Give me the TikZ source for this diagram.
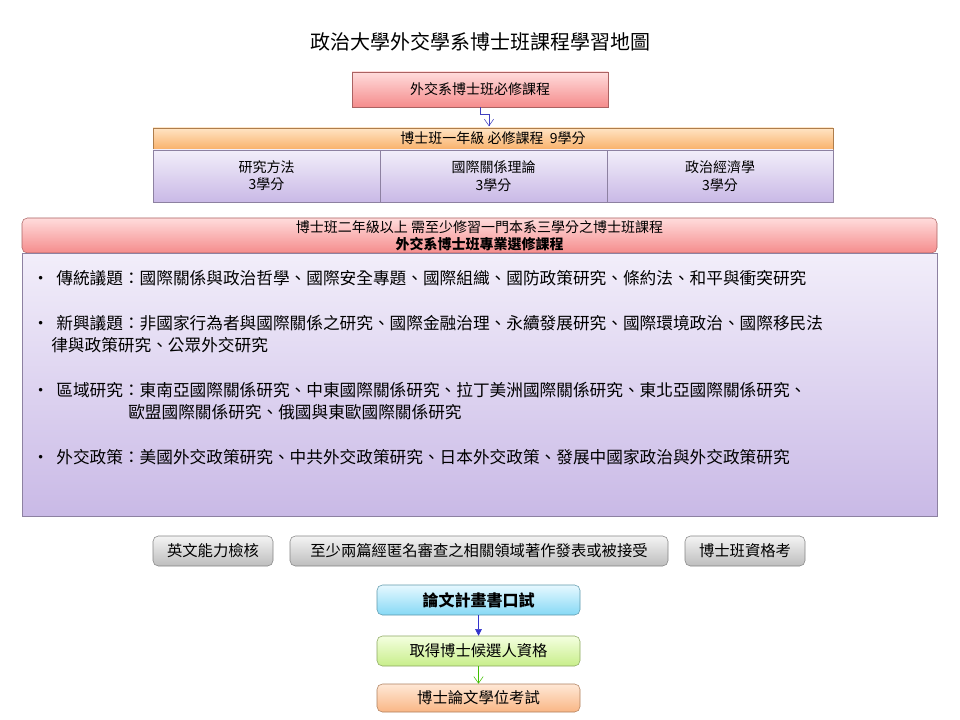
\documentclass[tikz,border=0pt]{standalone}
\usepackage{fontspec}
\setmainfont{Noto Sans CJK TC}
\usetikzlibrary{arrows.meta,calc}
\definecolor{pinkA}{HTML}{FFDCDC}\definecolor{pinkB}{HTML}{F58C8C}
\definecolor{oraA}{HTML}{FFE4C4}\definecolor{oraB}{HTML}{F9B26C}
\definecolor{purA}{HTML}{F2EEFA}\definecolor{purB}{HTML}{C9B9E6}
\definecolor{gryA}{HTML}{F4F4F4}\definecolor{gryB}{HTML}{BDBDBD}
\definecolor{bluA}{HTML}{E6F8FF}\definecolor{bluB}{HTML}{86D9F5}
\definecolor{grnA}{HTML}{F4FFE0}\definecolor{grnB}{HTML}{C8EE8A}
\definecolor{ora2A}{HTML}{FFE8D6}\definecolor{ora2B}{HTML}{F9B685}
\begin{document}
\begin{tikzpicture}[x=0.75pt,y=-0.75pt,
  bx/.style={draw=#1B!70!black, top color=#1A, bottom color=#1B, inner sep=0pt, align=center, font=\fontsize{10.5}{13}\selectfont},
]
\useasboundingbox (0,0) rectangle (960,720);
\node (title) at (480,42) {\fontsize{15}{18}\selectfont 政治大學外交學系博士班課程學習地圖};
\node[bx=pink, minimum width=256*0.75pt, minimum height=35*0.75pt] (req) at (480,89.5) {外交系博士班必修課程};
\node[bx=ora, minimum width=680*0.75pt, minimum height=21*0.75pt] (y1) at (493,138.5) {博士班一年級\ 必修課程\ \ 9學分};
\node[bx=pur, minimum width=227*0.75pt, minimum height=52*0.75pt] (c1) at (266.5,176) {研究方法\\3學分};
\node[bx=pur, minimum width=227*0.75pt, minimum height=52*0.75pt] (c2) at (493.5,176) {國際關係理論\\3學分};
\node[bx=pur, minimum width=226*0.75pt, minimum height=52*0.75pt] (c3) at (720,176) {政治經濟學\\3學分};
\draw[draw=blue!50!gray, -{Straight Barb[open,length=5pt,width=7pt]}] (req.south) -- ++(0,7) -| ($(req.south)+(9,19)$);
\node[bx=pink, rounded corners=4pt, minimum width=915*0.75pt, minimum height=35*0.75pt] (y2) at (479.5,235.5) {博士班二年級以上 需至少修習一門本系三學分之博士班課程\\\textbf{外交系博士班專業選修課程}};
\node[bx=pur, minimum width=915*0.75pt, minimum height=263*0.75pt, anchor=north] (body) at (y2.south) {};
\begin{scope}[every node/.style={anchor=west, font=\fontsize{12.5}{16}\selectfont, inner sep=0pt}]
\node (b1) at (32,278) {•\ \ 傳統議題：國際關係與政治哲學、國際安全專題、國際組織、國防政策研究、條約法、和平與衝突研究};
\node (b2) at (32,323) {•\ \ 新興議題：非國家行為者與國際關係之研究、國際金融治理、永續發展研究、國際環境政治、國際移民法};
\node (b2b) at (51,345) {律與政策研究、公眾外交研究};
\node (b3) at (32,390) {•\ \ 區域研究：東南亞國際關係研究、中東國際關係研究、拉丁美洲國際關係研究、東北亞國際關係研究、};
\node (b3b) at (128,412) {歐盟國際關係研究、俄國與東歐國際關係研究};
\node (b4) at (32,457) {•\ \ 外交政策：美國外交政策研究、中共外交政策研究、日本外交政策、發展中國家政治與外交政策研究};
\end{scope}
\begin{scope}[every node/.style={bx=gry, rounded corners=4pt, minimum height=30*0.75pt, font=\fontsize{11.5}{14}\selectfont}]
\node[minimum width=120*0.75pt] (g1) at (213,551) {英文能力檢核};
\node[minimum width=378*0.75pt] (g2) at (479,551) {至少兩篇經匿名審查之相關領域著作發表或被接受};
\node[minimum width=120*0.75pt] (g3) at (745,551) {博士班資格考};
\end{scope}
\node[bx=blu, rounded corners=4pt, minimum width=203*0.75pt, minimum height=30*0.75pt, font=\fontsize{12}{14}\selectfont\bfseries] (p1) at (478.5,600) {論文計畫書口試};
\node[bx=grn, rounded corners=4pt, minimum width=203*0.75pt, minimum height=30*0.75pt, font=\fontsize{11.5}{14}\selectfont] (p2) at (478.5,651) {取得博士候選人資格};
\node[bx=ora2, rounded corners=4pt, minimum width=203*0.75pt, minimum height=28*0.75pt, font=\fontsize{11.5}{14}\selectfont] (p3) at (478.5,698) {博士論文學位考試};
\draw[blue!60!gray, -{Triangle[length=5pt,width=5pt]}] (p1) -- (p2);
\draw[green!50!olive, -{Straight Barb[length=5pt,width=7pt]}] (p2) -- (p3);
\end{tikzpicture}
\end{document}
